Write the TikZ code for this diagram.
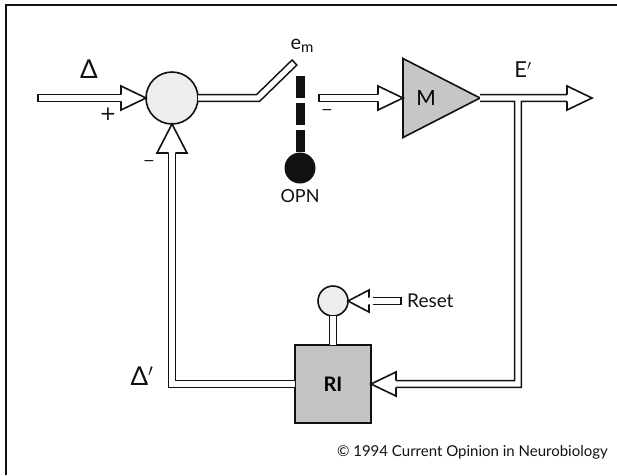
\documentclass[tikz,border=0pt]{standalone}
\usepackage{fontspec}
\setmainfont{Lato}
\newfontfamily\signfont{DejaVu Sans}
\usepackage{tikz}
\usetikzlibrary{positioning,shapes.geometric}
\definecolor{ink}{HTML}{111111}
\definecolor{speck}{HTML}{EEEEEE}
\definecolor{ampgray}{HTML}{C6C6C6}
\definecolor{rigray}{HTML}{C4C4C4}
\tikzset{
  loop diagram/.style={
    x=1pt,
    y=-1pt,
    line cap=butt,
    line join=miter
  },
  framerule/.style={
    draw=ink,
    line width=2pt
  },
  pipe/.style={
    draw=ink,
    line width=8.4pt,
    postaction={draw=white, line width=5.2pt, #1}
  },
  pipe/.default={},
  pics/hollowhead/.style args={#1 and #2}{code={
    \filldraw[draw=ink, line width=1.6pt, fill=white]
      (-#1,3.4pt) -- (-#1,#2) -- (0pt,0pt) -- (-#1,-#2) -- (-#1,-3.4pt);
  }},
  pics/hollowhead/.default={25pt and 12pt},
  sumnode/.style={
    circle,
    draw=ink,
    line width=1.6pt,
    fill=speck,
    minimum size=52pt,
    inner sep=0pt,
    outer sep=0pt
  },
  resetnode/.style={
    sumnode,
    minimum size=30pt
  },
  opnnode/.style={
    circle,
    fill=ink,
    minimum size=31pt,
    inner sep=0pt,
    outer sep=0pt
  },
  ampnode/.style={
    isosceles triangle,
    isosceles triangle stretches,
    draw=ink,
    line width=1.6pt,
    fill=ampgray,
    minimum width=79pt,
    minimum height=77pt,
    inner sep=0pt,
    outer sep=0pt,
    font=\fontsize{21}{21}\selectfont
  },
  intnode/.style={
    rectangle,
    draw=ink,
    line width=1.6pt,
    fill=rigray,
    minimum width=76pt,
    minimum height=78pt,
    inner sep=0pt,
    outer sep=0pt,
    font=\fontsize{20}{20}\selectfont\bfseries
  },
  opnrule/.style={
    draw=ink,
    line width=9pt,
    dash pattern=on 22pt off 5pt
  },
  lbl/.style={
    inner sep=0pt,
    text=ink,
    font=\fontsize{18}{18}\selectfont
  },
  biglbl/.style={
    lbl,
    font=\fontsize{26}{26}\selectfont
  },
  signlbl/.style={
    lbl,
    font=\signfont\fontsize{14}{14}\selectfont
  },
  notelbl/.style={
    lbl,
    font=\fontsize{15}{15}\selectfont
  }
}
\begin{document}
\begin{tikzpicture}[loop diagram]
\useasboundingbox (0,0) rectangle (617,475);
\draw[framerule] (6,475) -- (6,5) -- (617,5);
\node[sumnode] (sum) at (172,98) {};
\node[ampnode, anchor=west] (amp) at (403,98) {M};
\node[intnode] (ri) at (333,384) {RI};
\node[resetnode, above=29pt of ri] (reset) {};
\node[opnnode] (opn) at (300,168) {};
\node[lbl, below=6pt of opn] (opnlbl) {OPN};
\coordinate (din) at (37,98);
\coordinate (swtip) at (295,62);
\coordinate (dashtop) at (300,76);
\coordinate (min) at (318,98);
\coordinate (split) at (518,98);
\coordinate (eout) at (592,98);
\coordinate (rsrc) at (402,301);
\node[biglbl] (deltalbl) at (89,69) {Δ};
\node[signlbl, font=\signfont\fontsize{20}{20}\selectfont] (pluslbl) at (108,114) {+};
\node[signlbl] (fbminus) at (149,163) {−};
\node[signlbl] (ampminus) at (327,112) {−};
\node[lbl, font=\fontsize{20}{20}\selectfont] (emlbl) at (302,46) {e\raisebox{-3pt}{\fontsize{15}{15}\selectfont m}};
\node[biglbl, font=\fontsize{22}{22}\selectfont] (elbl) at (523,70) {E$'$};
\node[biglbl] (dprimelbl) at (142,376) {Δ$'$};
\node[lbl, font=\fontsize{19}{19}\selectfont, anchor=west] (resetlbl) at (407,301) {Reset};
\node[notelbl, anchor=east] (note) at (608,452) {© 1994 Current Opinion in Neurobiology};

\draw[pipe={shorten <=1.6pt}] (din) -- ([xshift=-25pt]sum.west);
\pic at (sum.west) {hollowhead};
\draw[pipe={shorten >=1.6pt}] (sum.east) -- ([xshift=60pt]sum.east) -- (swtip);
\draw[opnrule] (dashtop) -- (opn.north);
\draw[pipe={shorten <=1.6pt}] (min) -- ([xshift=-25pt]amp.west);
\pic at (amp.west) {hollowhead};
\draw[pipe] (amp.east) -- ([xshift=-25pt]eout) (split) |- ([xshift=25pt]ri.east);
\pic at (eout) {hollowhead};
\pic[rotate=180] at (ri.east) {hollowhead};
\draw[pipe] (reset.south) -- (ri.north);
\draw[pipe={shorten <=1.6pt}] (rsrc) -- ([xshift=25pt]reset.east);
\pic[rotate=180] at (reset.east) {hollowhead=21pt and 11pt};
\draw[pipe] (ri.west) -| ([yshift=-29pt]sum.south);
\pic[rotate=90] at (sum.south) {hollowhead=29pt and 15pt};
\end{tikzpicture}
\end{document}
